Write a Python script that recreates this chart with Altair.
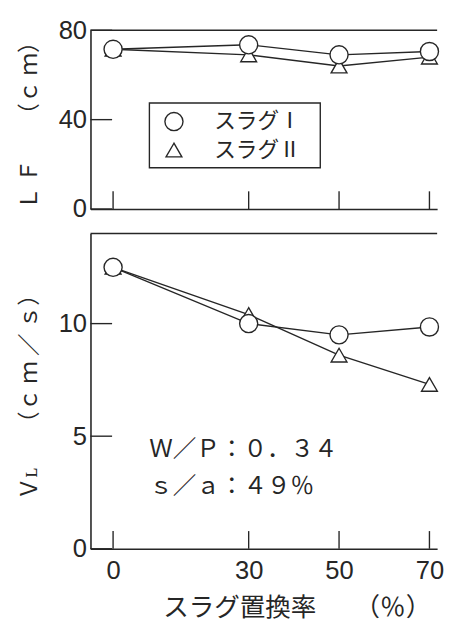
import altair as alt
import pandas as pd

slag_rate = [0, 30, 50, 70]
series_names = ["スラグⅠ", "スラグⅡ"]
lf_slag1 = [71.5, 73.5, 69.0, 70.5]
lf_slag2 = [71.5, 69.0, 64.0, 68.0]
vl_slag1 = [12.5, 10.0, 9.5, 9.85]
vl_slag2 = [12.5, 10.4, 8.6, 7.3]
lf_ticks = [0, 40, 80]
vl_ticks = [0, 5, 10]
notes = ["Ｗ／Ｐ：０．３４", "ｓ／ａ：４９％"]
note_x = [8.0, 8.0]
note_y = [4.4, 2.75]

W = 353
H_TOP = 182
H_BOT = 321
XDOM = [-5, 71.7]
INK = "#262626"
JP = "Noto Sans CJK JP"
NUM = "Liberation Sans"
SHAPES = ["circle", "triangle-up"]
SIZES = [340, 260]


def make_df(s1, s2):
    rows = []
    # series II first so circles are drawn on top
    for x, y in zip(slag_rate, s2):
        rows.append({"x": x, "y": y, "series": series_names[1]})
    for x, y in zip(slag_rate, s1):
        rows.append({"x": x, "y": y, "series": series_names[0]})
    return pd.DataFrame(rows)


def one():
    return alt.Chart(pd.DataFrame({"k": [0]}))


def panel(df, ydom, yticks, ytitle, height, bottom):
    xs = alt.Scale(domain=XDOM, nice=False, zero=False)
    ys = alt.Scale(domain=ydom, nice=False, zero=False)
    x_axis = alt.Axis(
        values=slag_rate, ticks=False, grid=False, labels=bottom,
        domainColor=INK, domainWidth=1.6,
        labelFont=NUM, labelFontSize=26, labelColor=INK,
        labelPadding=9,
        title="スラグ置換率　　（％）" if bottom else None,
        titleFont=JP, titleFontSize=26, titleFontWeight="normal", titleColor=INK,
        titlePadding=12, titleX=210, titleAlign="center",
    )
    y_axis = alt.Axis(
        values=yticks, ticks=False, grid=False,
        domainColor=INK, domainWidth=1.6,
        labelFont=NUM, labelFontSize=26, labelColor=INK,
        labelPadding=4,
        title=ytitle, titleFont=JP, titleFontSize=23, titleFontWeight="normal",
        titleColor=INK, titlePadding=17,
    )
    base = alt.Chart(df)
    lines = base.mark_line(color=INK, strokeWidth=1.4).encode(
        x=alt.X("x:Q", scale=xs, axis=x_axis),
        y=alt.Y("y:Q", scale=ys, axis=y_axis),
        detail="series:N",
    )
    points = base.mark_point(
        filled=True, fill="white", stroke=INK, strokeWidth=1.4, opacity=1,
    ).encode(
        x=alt.X("x:Q", scale=xs),
        y=alt.Y("y:Q", scale=ys),
        shape=alt.Shape(
            "series:N",
            scale=alt.Scale(domain=series_names, range=SHAPES),
            legend=None,
        ),
        size=alt.Size(
            "series:N",
            scale=alt.Scale(domain=series_names, range=SIZES),
            legend=None,
        ),
    )
    yt = alt.Chart(pd.DataFrame({"y": yticks})).mark_rule(
        color=INK, strokeWidth=1.4
    ).encode(y=alt.Y("y:Q", scale=ys), x=alt.value(0), x2=alt.value(22))
    xt = alt.Chart(pd.DataFrame({"x": slag_rate})).mark_rule(
        color=INK, strokeWidth=1.4
    ).encode(x=alt.X("x:Q", scale=xs), y=alt.value(height), y2=alt.value(height - 18))
    top = one().mark_rule(color=INK, strokeWidth=1.6).encode(
        x=alt.value(0), x2=alt.value(W), y=alt.value(0)
    )
    return [top, yt, xt, lines, points]


# legend box (top panel)
leg_box = one().mark_rect(fill="white", stroke=INK, strokeWidth=1.4).encode(
    x=alt.value(60), x2=alt.value(234), y=alt.value(74), y2=alt.value(140)
)
leg_items = []
for i, (name, shp, sz) in enumerate(zip(series_names, SHAPES, SIZES)):
    yy = 93 + 29 * i
    leg_items.append(
        one().mark_point(
            shape=shp, size=sz, filled=True, fill="white", stroke=INK,
            strokeWidth=1.4, opacity=1,
        ).encode(x=alt.value(85), y=alt.value(yy))
    )
    leg_items.append(
        one().mark_text(
            align="left", baseline="middle", font=JP, fontSize=22, color=INK
        ).encode(x=alt.value(126), y=alt.value(yy), text=alt.value(name))
    )

top_layers = panel(make_df(lf_slag1, lf_slag2), [0, 80], lf_ticks,
                   "Ｌ Ｆ　　（ｃ ｍ）", H_TOP, False)
top_panel = alt.layer(*top_layers, leg_box, *leg_items).properties(
    width=W, height=H_TOP
)

bot_layers = panel(make_df(vl_slag1, vl_slag2), [0, 14], vl_ticks,
                   "Ｖʟ　　（ｃ ｍ ／ ｓ）", H_BOT, True)

note_df = pd.DataFrame({"x": note_x, "y": note_y, "t": notes})
note_layer = alt.Chart(note_df).mark_text(
    align="left", baseline="middle", font=JP, fontSize=24, color=INK
).encode(
    x=alt.X("x:Q", scale=alt.Scale(domain=XDOM, nice=False, zero=False)),
    y=alt.Y("y:Q", scale=alt.Scale(domain=[0, 14], nice=False, zero=False)),
    text="t:N",
)
bot_panel = alt.layer(*bot_layers, note_layer).properties(width=W, height=H_BOT)

chart = alt.vconcat(top_panel, bot_panel, spacing=11).properties(
    padding={"left": 11, "top": 4, "right": 0, "bottom": 2},
    background="white",
).configure_view(stroke=None)

chart.save("out.html", embed_options={"renderer": "svg", "actions": False})
